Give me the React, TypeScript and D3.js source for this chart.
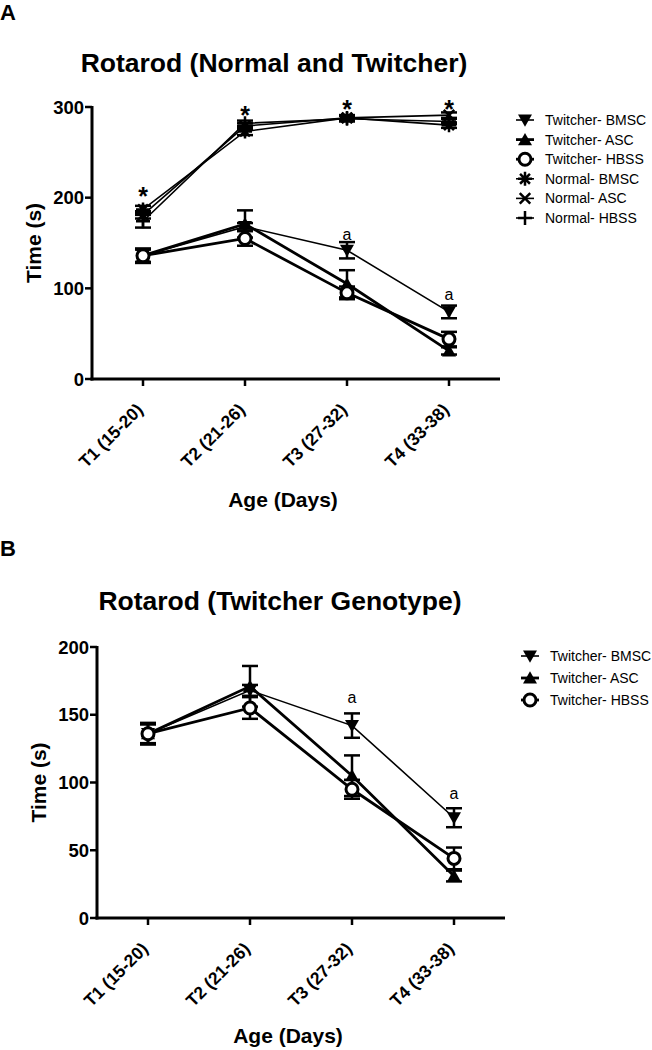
import React from "react";
import * as d3 from "d3";

const categories = ["T1 (15-20)", "T2 (21-26)", "T3 (27-32)", "T4 (33-38)"];

const twBMSC = [136, 168, 142, 74];
const twBMSCerr = [7, 4, 9, 7];
const twASC = [136, 171, 105, 31];
const twASCerr = [7, 15, 15, 4];
const twHBSS = [136, 155, 95, 44];
const twHBSSerr = [8, 8, 7, 8];
const nBMSC = [187, 273, 288, 280];
const nBMSCerr = [4, 4, 3, 3];
const nASC = [181, 279, 288, 291];
const nASCerr = [4, 3, 3, 3];
const nHBSS = [174, 282, 287, 284];
const nHBSSerr = [7, 3, 3, 3];

const starAnnot = [211, 301, 307, 307];
const aAnnotA = [null, null, 160, 93];
const aAnnotB = [null, null, 163, 92];

const ticksA = [0, 100, 200, 300];
const ticksB = [0, 50, 100, 150, 200];

type Series = { name: string; values: number[]; err: number[]; marker: string; lw: number };

const seriesTw: Series[] = [
  { name: "Twitcher- BMSC", values: twBMSC, err: twBMSCerr, marker: "down", lw: 1.6 },
  { name: "Twitcher- ASC", values: twASC, err: twASCerr, marker: "up", lw: 2.8 },
  { name: "Twitcher- HBSS", values: twHBSS, err: twHBSSerr, marker: "circle", lw: 2.8 },
];
const seriesN: Series[] = [
  { name: "Normal- BMSC", values: nBMSC, err: nBMSCerr, marker: "asterisk", lw: 1.6 },
  { name: "Normal- ASC", values: nASC, err: nASCerr, marker: "x", lw: 1.6 },
  { name: "Normal- HBSS", values: nHBSS, err: nHBSSerr, marker: "plus", lw: 1.6 },
];

const FONT = "Arial, 'Liberation Sans', Helvetica, sans-serif";

function Marker({ type, x, y }: { type: string; x: number; y: number }) {
  const s = 7;
  if (type === "down") {
    const p = d3.path();
    p.moveTo(x - s, y - s * 0.8);
    p.lineTo(x + s, y - s * 0.8);
    p.lineTo(x, y + s * 0.95);
    p.closePath();
    return <path d={p.toString()} fill="#000" />;
  }
  if (type === "up") {
    const p = d3.path();
    p.moveTo(x - s, y + s * 0.8);
    p.lineTo(x + s, y + s * 0.8);
    p.lineTo(x, y - s * 0.95);
    p.closePath();
    return <path d={p.toString()} fill="#000" />;
  }
  if (type === "circle") {
    return <circle cx={x} cy={y} r={6} fill="#fff" stroke="#000" strokeWidth={3} />;
  }
  const p = d3.path();
  const r = 7;
  if (type === "asterisk") {
    for (let i = 0; i < 4; i++) {
      const a = (i * Math.PI) / 4;
      p.moveTo(x - r * Math.cos(a), y - r * Math.sin(a));
      p.lineTo(x + r * Math.cos(a), y + r * Math.sin(a));
    }
  } else if (type === "x") {
    const q = r * 0.75;
    p.moveTo(x - q, y - q);
    p.lineTo(x + q, y + q);
    p.moveTo(x - q, y + q);
    p.lineTo(x + q, y - q);
  } else if (type === "plus") {
    p.moveTo(x - r, y);
    p.lineTo(x + r, y);
    p.moveTo(x, y - r);
    p.lineTo(x, y + r);
  }
  return <path d={p.toString()} stroke="#000" strokeWidth={2.5} fill="none" />;
}

type PanelProps = {
  letter: string;
  letterY: number;
  title: string;
  titleX: number;
  titleY: number;
  x0: number;
  x1: number;
  yTop: number;
  yBot: number;
  yMax: number;
  ticks: number[];
  series: Series[];
  stars: (number | null)[] | null;
  aAnnot: (number | null)[];
  yLabelX: number;
  xLabelX: number;
  xLabelY: number;
  legX: number;
  legY: number;
  legStep: number;
};

function Panel(p: PanelProps) {
  const x = d3.scalePoint<string>().domain(categories).range([p.x0, p.x1]).padding(0.5);
  const y = d3.scaleLinear().domain([0, p.yMax]).range([p.yBot, p.yTop]);
  const line = d3
    .line<number>()
    .x((_, i) => x(categories[i]) as number)
    .y((d) => y(d));
  const cap = 8;
  return (
    <g fontFamily={FONT}>
      <text x={0} y={p.letterY} fontSize={22} fontWeight="bold">
        {p.letter}
      </text>
      <text x={p.titleX} y={p.titleY} fontSize={26.5} fontWeight="bold" textAnchor="middle">
        {p.title}
      </text>
      {/* axes */}
      <line x1={p.x0} x2={p.x0} y1={p.yTop - 1} y2={p.yBot + 1.5} stroke="#000" strokeWidth={3} />
      <line x1={p.x0 - 1.5} x2={p.x1} y1={p.yBot} y2={p.yBot} stroke="#000" strokeWidth={3} />
      {p.ticks.map((t) => (
        <g key={t}>
          <line x1={p.x0 - 7} x2={p.x0} y1={y(t)} y2={y(t)} stroke="#000" strokeWidth={2.5} />
          <text
            x={p.x0 - 8}
            y={y(t)}
            dy="0.36em"
            textAnchor="end"
            fontSize={18.5}
            fontWeight="bold"
          >
            {t}
          </text>
        </g>
      ))}
      {categories.map((c) => (
        <g key={c}>
          <line
            x1={x(c)}
            x2={x(c)}
            y1={p.yBot}
            y2={p.yBot + 7}
            stroke="#000"
            strokeWidth={2.5}
          />
          <text
            transform={`translate(${(x(c) as number) + 1},${p.yBot + 32}) rotate(-45)`}
            textAnchor="end"
            fontSize={17.5}
            fontWeight="bold"
          >
            {c}
          </text>
        </g>
      ))}
      <text
        transform={`translate(${p.yLabelX},${(p.yTop + p.yBot) / 2}) rotate(-90)`}
        textAnchor="middle"
        dy="0.36em"
        fontSize={21}
        fontWeight="bold"
      >
        Time (s)
      </text>
      <text x={p.xLabelX} y={p.xLabelY} textAnchor="middle" fontSize={21} fontWeight="bold">
        Age (Days)
      </text>
      {/* lines */}
      {p.series.map((s) => (
        <path key={s.name} d={line(s.values) as string} fill="none" stroke="#000" strokeWidth={s.lw} />
      ))}
      {/* error bars */}
      {p.series.map((s) =>
        s.values.map((v, i) => {
          const cx = x(categories[i]) as number;
          const hi = y(v + s.err[i]);
          const lo = y(v - s.err[i]);
          return (
            <g key={s.name + i} stroke="#000" strokeWidth={2.5}>
              <line x1={cx} x2={cx} y1={hi} y2={lo} />
              <line x1={cx - cap} x2={cx + cap} y1={hi} y2={hi} />
              <line x1={cx - cap} x2={cx + cap} y1={lo} y2={lo} />
            </g>
          );
        })
      )}
      {/* markers */}
      {p.series.map((s) =>
        s.values.map((v, i) => (
          <Marker key={s.name + "m" + i} type={s.marker} x={x(categories[i]) as number} y={y(v)} />
        ))
      )}
      {/* annotations */}
      {p.stars &&
        p.stars.map((v, i) =>
          v == null ? null : (
            <text
              key={"s" + i}
              x={x(categories[i])}
              y={y(v)}
              dy="0.7em"
              textAnchor="middle"
              fontSize={25}
              fontWeight="bold"
            >
              *
            </text>
          )
        )}
      {p.aAnnot.map((v, i) =>
        v == null ? null : (
          <text key={"a" + i} x={x(categories[i])} y={y(v)} dy="0.35em" textAnchor="middle" fontSize={16}>
            a
          </text>
        )
      )}
      {/* legend */}
      {p.series.map((s, i) => {
        const ly = p.legY + i * p.legStep;
        return (
          <g key={"l" + s.name}>
            <line x1={p.legX - 9} x2={p.legX + 9} y1={ly} y2={ly} stroke="#000" strokeWidth={s.lw} />
            <Marker type={s.marker} x={p.legX} y={ly} />
            <text x={p.legX + 20} y={ly} dy="0.36em" fontSize={14}>
              {s.name}
            </text>
          </g>
        );
      })}
    </g>
  );
}

export default function App() {
  return (
    <svg
      width={652}
      height={1050}
      style={{ position: "absolute", left: 0, top: 0, background: "#fff" }}
    >
      <rect width={652} height={1050} fill="#fff" />
      <Panel
        letter="A"
        letterY={20}
        title="Rotarod (Normal and Twitcher)"
        titleX={274}
        titleY={72}
        x0={92}
        x1={500}
        yTop={107}
        yBot={379}
        yMax={300}
        ticks={ticksA}
        series={[...seriesTw, ...seriesN]}
        stars={starAnnot}
        aAnnot={aAnnotA}
        yLabelX={33}
        xLabelX={283}
        xLabelY={507}
        legX={525}
        legY={120}
        legStep={19.6}
      />
      <Panel
        letter="B"
        letterY={556}
        title="Rotarod (Twitcher Genotype)"
        titleX={280}
        titleY={610}
        x0={97}
        x1={505}
        yTop={647}
        yBot={918}
        yMax={200}
        ticks={ticksB}
        series={seriesTw}
        stars={null}
        aAnnot={aAnnotB}
        yLabelX={38}
        xLabelX={288}
        xLabelY={1043}
        legX={530}
        legY={656}
        legStep={22}
      />
    </svg>
  );
}
